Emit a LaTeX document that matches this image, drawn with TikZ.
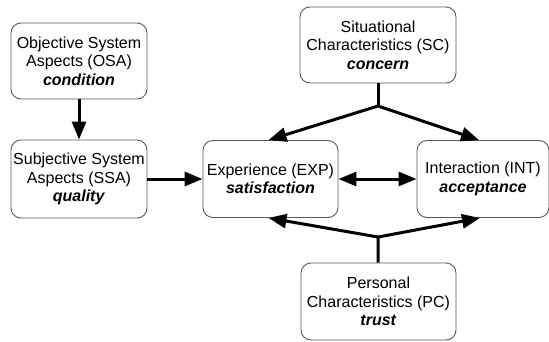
\documentclass[tikz,border=0pt]{standalone}
\usepackage{fontspec}
\setmainfont{Liberation Sans}
\usetikzlibrary{arrows.meta}
\begin{document}
\begin{tikzpicture}[x=1pt,y=-1pt,
  >={Triangle[length=18pt,width=14pt]},
  box/.style={draw=black!65,line width=0.9pt,rounded corners=10pt,align=center,
    inner sep=0pt,font=\fontsize{16}{18.5}\selectfont},
  link/.style={line width=3pt}]
\useasboundingbox (0,0) rectangle (549,341);

\node[box,minimum width=136pt,minimum height=76pt] (osa) at (79,61)
  {Objective System\\Aspects (OSA)\\\textbf{\textit{condition}}};
\node[box,minimum width=136pt,minimum height=78pt] (ssa) at (79,179)
  {Subjective System\\Aspects (SSA)\\\textbf{\textit{quality}}};
\node[box,minimum width=156pt,minimum height=76pt] (sc) at (378,45)
  {Situational\\Characteristics (SC)\\\textbf{\textit{concern}}};
\node[box,minimum width=135pt,minimum height=77pt] (exp) at (270.5,179)
  {Experience (EXP)\\\textbf{\textit{satisfaction}}};
\node[box,minimum width=132pt,minimum height=77pt] (int) at (483,179)
  {Interaction (INT)\\\textbf{\textit{acceptance}}};
\node[box,minimum width=155pt,minimum height=77pt] (pc) at (378.5,301.5)
  {Personal\\Characteristics (PC)\\\textbf{\textit{trust}}};

\coordinate (jsc) at (378,106);
\coordinate (jpc) at (378,237);

\draw[link,->] (osa) -- (ssa);
\draw[link,->] (ssa) -- (exp);
\draw[link,<->] (exp) -- (int);

\draw[link] (sc) -- (jsc);
\draw[link,->] (jsc) -- ([xshift=-2pt]exp.north);
\draw[link,->] (jsc) -- ([xshift=-4pt]int.north);

\draw[link] (pc) -- (jpc);
\draw[link,->] (jpc) -- ([xshift=-2pt]exp.south);
\draw[link,->] (jpc) -- ([xshift=-3pt]int.south);
\end{tikzpicture}
\end{document}
